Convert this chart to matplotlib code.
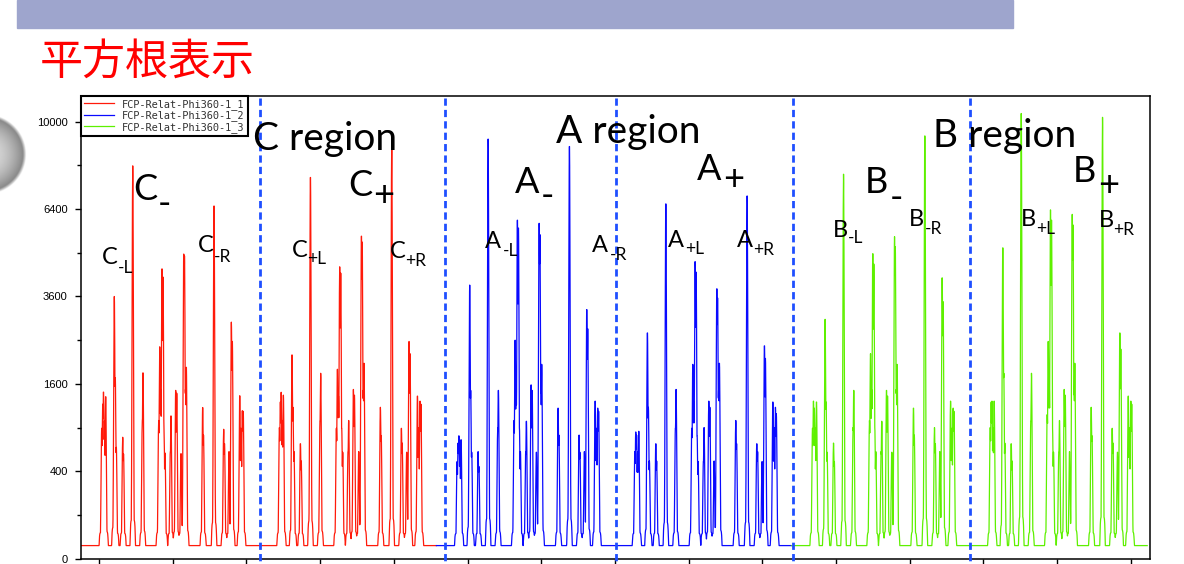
import numpy as np
import matplotlib.pyplot as plt
from matplotlib.patches import Rectangle
from matplotlib.transforms import blended_transform_factory

plt.rcParams['font.family'] = ['Lato', 'DejaVu Sans']

# peak positions inside one half-region (channels from the start of the half-region)
peak_offsets = [281, 294, 305, 319, 335, 452, 465, 479, 566, 577,
                702, 832, 841, 1054, 1068, 1082, 1099, 1113, 1126, 1140,
                1212, 1221, 1285, 1299, 1357, 1394, 1404, 1418, 1429, 1651,
                1662, 1805, 1936, 1947, 2008, 2040, 2053, 2154, 2171, 2189, 2201]

# peak heights (counts) for each half-region
h_c_minus = [900, 1250, 1470, 1000, 1390, 3600, 1730, 656, 772, 580,
             8080, 1000, 1830, 1000, 2350, 1500, 4450, 4200, 900, 585,
             600, 1080, 1500, 1450, 585, 4860, 4800, 1500, 1940, 1210,
             800, 6590, 877, 700, 600, 2930, 2500, 1390, 900, 1160, 1150]
h_c_plus = [900, 1300, 1450, 1000, 1400, 2200, 1200, 600, 700, 500,
            7700, 1000, 1800, 900, 1900, 1400, 4460, 4270, 900, 600,
            600, 1000, 1500, 1400, 600, 5510, 5310, 1500, 2000, 1200,
            800, 9080, 900, 700, 600, 2500, 2200, 1400, 900, 1300, 1250]
h_a_minus = [500, 700, 800, 600, 750, 3920, 1500, 600, 600, 450,
             9220, 900, 1500, 1000, 2500, 1500, 6070, 5790, 900, 600,
             600, 1000, 1600, 1500, 600, 5890, 5500, 1500, 2000, 1200,
             800, 9000, 800, 600, 600, 3250, 2800, 1300, 900, 1200, 1150]
h_a_plus = [600, 850, 800, 600, 850, 2700, 1200, 500, 700, 500,
            6670, 900, 1500, 900, 2000, 1300, 4620, 4300, 800, 500,
            500, 900, 1300, 1200, 500, 3860, 3600, 1500, 2000, 1000,
            700, 6890, 700, 600, 500, 2400, 2100, 1300, 900, 1200, 1100]
h_b_minus = [900, 1300, 1200, 900, 1300, 3000, 1300, 600, 700, 500,
             7740, 900, 1500, 1000, 2200, 1500, 4930, 4600, 900, 600,
             600, 1000, 1500, 1400, 600, 5430, 5100, 1500, 2000, 1200,
             800, 9470, 900, 700, 600, 4130, 3500, 1300, 900, 1200, 1150]
h_b_plus = [900, 1300, 1300, 900, 1300, 5120, 1800, 700, 700, 500,
            10500, 1000, 1800, 1100, 2500, 1600, 6370, 6000, 900, 600,
            600, 1000, 1500, 1400, 600, 6280, 5900, 1500, 2000, 1200,
            800, 10200, 900, 700, 600, 2700, 2300, 1400, 900, 1300, 1250]

half_width = 2411
data_start = -244
baseline = 9

series_names = ['FCP-Relat-Phi360-1_1', 'FCP-Relat-Phi360-1_2', 'FCP-Relat-Phi360-1_3']
series_colors = ['#ff1a0a', '#0a0aff', '#5ef000']
series_halves = [[h_c_minus, h_c_plus], [h_a_minus, h_a_plus], [h_b_minus, h_b_plus]]

region_lines = [2187, 4690, 7010, 9412, 11818]
y_ticks = [0, 400, 1600, 3600, 6400, 10000]
y_minor = [100, 900, 2500, 4900, 8100]
x_ticks = list(range(0, 15000, 1000))

W, H = 1184, 564


def spectrum(halves, x0):
    x = np.arange(x0, x0 + 2 * half_width + 1, 2.0)
    y = np.full_like(x, baseline, dtype=float)
    for k, heights in enumerate(halves):
        s = x0 + k * half_width
        for off, h in zip(peak_offsets, heights):
            d = x - (s + off)
            spike = h * np.exp(-0.5 * (d / 6.5) ** 2)
            foot = (30 + 0.006 * h) * np.exp(-(d / 34.0) ** 8)
            y = np.maximum(y, np.maximum(spike, foot))
    return x, y


fig = plt.figure(figsize=(W / 100, H / 100), dpi=100)
fig.patch.set_facecolor('white')

# slide header bar and title
fig.patches.append(Rectangle((17 / W, 1 - 28 / H), 996 / W, 28 / H,
                             transform=fig.transFigure, color='#9ea5cd', zorder=0))
fig.text(40 / W, 1 - 63 / H, '平方根表示', color='#ff0000', fontsize=31,
         family=['Noto Sans CJK JP'], va='center', ha='left')

# grey round button at the left edge
bx = fig.add_axes([0, 1 - 200 / H, 30 / W, 95 / H])
gx, gy = np.meshgrid(np.arange(0, 30, 0.5), np.arange(105, 200, 0.5))
r = np.hypot(gx + 14, gy - 154) / 40.0
shade = np.clip(0.86 - 0.38 * r ** 2, 0, 1)
img = np.dstack([shade, shade, shade, np.clip((1 - r) * 12, 0, 1)])
bx.imshow(img, extent=(0, 30, 200, 105), aspect='auto')
bx.set_xlim(0, 30)
bx.set_ylim(200, 105)
bx.axis('off')

ax = fig.add_axes([81 / W, 5.3 / H, (1150 - 81) / W, (558.7 - 96) / H])
ax.set_yscale('function', functions=(lambda v: np.sqrt(np.clip(v, 0, None)),
                                     lambda v: np.square(v)))

handles = []
for i, halves in enumerate(series_halves):
    x, y = spectrum(halves, data_start + i * 2 * half_width)
    ln, = ax.plot(x, y, color=series_colors[i], lw=0.9)
    handles.append(ln)

ax.set_xlim(-244, 14260)
ax.set_ylim(0, 11210)

ax.set_yticks(y_ticks)
ax.set_yticklabels([str(t) for t in y_ticks], family='Liberation Sans', fontsize=8)
ax.set_yticks(y_minor, minor=True)
ax.set_xticks(x_ticks)
ax.set_xticklabels([])
ax.tick_params(axis='both', which='major', direction='out', length=4.5, width=1, pad=5)
ax.tick_params(axis='y', which='minor', direction='out', length=3, width=1)
for sp in ax.spines.values():
    sp.set_linewidth(1.1)

# region boundaries
tr = blended_transform_factory(ax.transData, ax.transAxes)
for xv in region_lines:
    ax.plot([xv, xv], [0.996, -0.03], transform=tr, color='#1f4fff', lw=2,
            dashes=(2.6, 1.5), clip_on=False, zorder=4)

leg = ax.legend(handles, series_names, loc='upper left', borderaxespad=0,
                fancybox=False, edgecolor='black', framealpha=1,
                prop={'family': 'DejaVu Sans Mono', 'size': 7.4},
                handlelength=2.9, handletextpad=0.8, borderpad=0.3,
                labelspacing=0.05, labelcolor='#333333')
leg.get_frame().set_linewidth(1.5)


def label(s, xp, yp, size):
    fig.text(xp / W, 1 - yp / H, s, fontsize=size, ha='left', va='baseline',
             color='black', zorder=10)


# region names
label('C region', 253, 150, 28)
label('A region', 556, 143, 28)
label('B region', 933, 147, 28)

# half-region names: letter, sign, sign x, sign baseline
big = [('C', 133, 200, '-', 158, 215),
       ('C', 348, 196, '+', 373, 206),
       ('A', 515, 193, '-', 541, 207),
       ('A', 697, 180, '+', 723, 190),
       ('B', 865, 193, '-', 890, 209),
       ('B', 1073, 182, '+', 1098, 196)]
for letter, lx, ly, sign, sx, sy in big:
    label(letter, lx, ly, 26)
    label(sign, sx, sy, 26)

# sub-peak names: letter, subscript
small = [('C', 102, 264, '-L', 118, 273),
         ('C', 198, 252, '-R', 214, 262),
         ('C', 292, 257, '+L', 307, 264),
         ('C', 390, 258, '+R', 405, 266),
         ('A', 485, 248, '-L', 503, 256),
         ('A', 592, 252, '-R', 610, 260),
         ('A', 668, 247, '+L', 685, 254),
         ('A', 737, 247, '+R', 753, 255),
         ('B', 833, 237, '-L', 848, 243),
         ('B', 909, 226, '-R', 925, 234),
         ('B', 1021, 226, '+L', 1036, 234),
         ('B', 1099, 227, '+R', 1113, 235)]
for letter, lx, ly, sub, sx, sy in small:
    label(letter, lx, ly, 17)
    label(sub, sx, sy, 12.5)

fig.savefig('out.png', dpi=100)
